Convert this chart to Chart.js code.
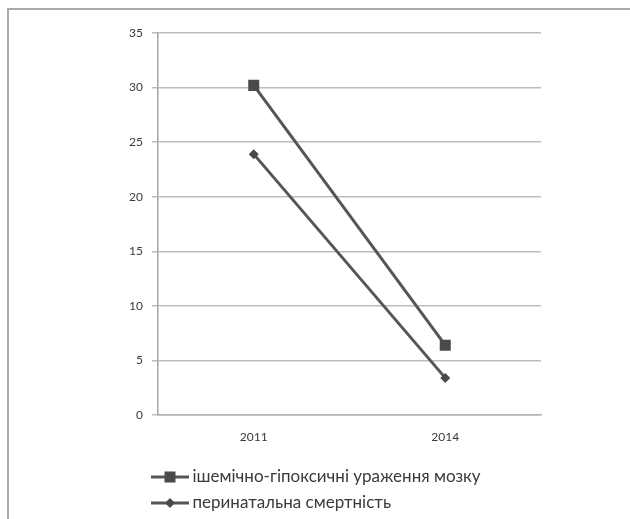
<!DOCTYPE html>
<html>
<head>
<meta charset="utf-8">
<script src="https://cdn.jsdelivr.net/npm/chart.js@4.4.1/dist/chart.umd.min.js"></script>
<style>
  html, body { margin: 0; padding: 0; background: #fff; }
  #wrap { position: relative; width: 630px; height: 519px; overflow: hidden; }
  #frame { position: absolute; left: 7px; top: 8px; width: 640px; height: 520px;
           border-top: 2px solid #a9a9a9; border-left: 2px solid #a9a9a9; box-sizing: border-box; }
  #c { position: absolute; left: 0; top: 0; }
</style>
</head>
<body>
<div id="wrap">
  <div id="frame"></div>
  <canvas id="c" width="630" height="519"></canvas>
</div>
<script>
// Years on the category axis
const years = ['2011', '2014'];
// Series names
const seriesNames = ['ішемічно-гіпоксичні ураження мозку', 'перинатальна смертність'];
// Values per year
const ischemicLesions = [30.2, 6.4];
const perinatalMortality = [23.9, 3.4];
// Value axis ticks
const yTicks = [0, 5, 10, 15, 20, 25, 30, 35];

const lineColor = '#555555';
const markerColor = '#4a4a4a';
const textColor = '#3a3a3a';
const fontStack = 'Lato, "Open Sans", "DejaVu Sans", sans-serif';

// Legend symbol: short line with the series marker in the middle
function legendSymbol(shape) {
  const cv = document.createElement('canvas');
  cv.width = 38; cv.height = 14;
  const g = cv.getContext('2d');
  g.strokeStyle = lineColor;
  g.lineWidth = 3;
  g.beginPath(); g.moveTo(0, 7); g.lineTo(38, 7); g.stroke();
  g.fillStyle = markerColor;
  if (shape === 'rect') {
    g.fillRect(13.5, 1.5, 11, 11);
  } else {
    g.beginPath();
    g.moveTo(19, 2); g.lineTo(24, 7); g.lineTo(19, 12); g.lineTo(14, 7); g.closePath();
    g.fill();
  }
  return cv;
}
const symbols = [legendSymbol('rect'), legendSymbol('rectRot')];

// Nudges the legend block so it sits under the axis labels
const legendShift = {
  id: 'legendShift',
  afterLayout(chart) {
    const l = chart.legend;
    if (l) { l.left -= 11; l.right -= 11; l.top += 2.5; l.bottom += 2.5; }
  }
};

new Chart(document.getElementById('c'), {
  type: 'line',
  data: {
    labels: years,
    datasets: [
      {
        label: seriesNames[0],
        data: ischemicLesions,
        borderColor: lineColor,
        backgroundColor: markerColor,
        borderWidth: 3,
        pointStyle: 'rect',
        pointRadius: 7.8,
        pointBorderWidth: 0,
        pointBackgroundColor: markerColor,
        tension: 0
      },
      {
        label: seriesNames[1],
        data: perinatalMortality,
        borderColor: lineColor,
        backgroundColor: markerColor,
        borderWidth: 3,
        pointStyle: 'rectRot',
        pointRadius: 5,
        pointBorderWidth: 0,
        pointBackgroundColor: markerColor,
        tension: 0
      }
    ]
  },
  options: {
    responsive: false,
    animation: false,
    layout: { padding: { left: 0, right: 89, top: 33, bottom: 0 } },
    scales: {
      x: {
        offset: true,
        grid: { display: false, drawTicks: false },
        border: { display: true, color: '#b3b3b3', width: 1.5 },
        ticks: { color: textColor, font: { family: fontStack, size: 12 }, padding: 15 },
        afterFit(scale) { scale.height = 42; }
      },
      y: {
        min: 0,
        max: 35,
        afterBuildTicks(scale) { scale.ticks = yTicks.map(v => ({ value: v })); },
        grid: { color: '#bdbdbd', lineWidth: 1.5, tickLength: 6, drawTicks: true },
        border: { display: true, color: '#a6a6a6', width: 1.5 },
        ticks: { color: textColor, font: { family: fontStack, size: 12 }, padding: 9 },
        afterFit(scale) { scale.width = 158; }
      }
    },
    plugins: {
      legend: {
        position: 'bottom',
        align: 'start',
        fullSize: false,
        labels: {
          usePointStyle: true,
          pointStyleWidth: 28,
          padding: 9,
          color: textColor,
          font: { family: fontStack, size: 17 },
          generateLabels(chart) {
            return chart.data.datasets.map((ds, i) => ({
              text: ds.label,
              pointStyle: symbols[i],
              fillStyle: markerColor,
              strokeStyle: lineColor,
              lineWidth: 0,
              hidden: false,
              datasetIndex: i,
              fontColor: textColor
            }));
          }
        }
      },
      tooltip: { enabled: false }
    }
  },
  plugins: [legendShift]
});
</script>
</body>
</html>
